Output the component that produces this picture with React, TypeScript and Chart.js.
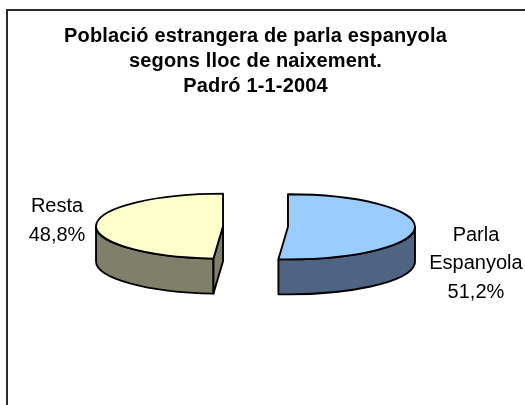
import { useEffect, useRef } from 'react';
import { Chart, registerables } from 'chart.js';

Chart.register(...registerables);

const titleLines = ['Població estrangera de parla espanyola', 'segons lloc de naixement.', 'Padró 1-1-2004'];
const categories = ['Parla Espanyola', 'Resta'];
const labelLines = [['Parla', 'Espanyola'], ['Resta']];
const values = [51.2, 48.8];
const topColors = ['#99CCFF', '#FFFFCC'];
const sideColors = ['#4E6482', '#80806A'];

const FONT = '"Liberation Sans", Arial, sans-serif';
const K = 0.256;
const DEPTH = 35;
const CY = 226.5;
const EXPLODE = 32.5;

function frontRanges(s: number, e: number): [number, number][] {
  const out: [number, number][] = [];
  for (let k = -2; k <= 2; k++) {
    const lo = k * 2 * Math.PI;
    const hi = lo + Math.PI;
    const a = Math.max(s, lo);
    const b = Math.min(e, hi);
    if (b > a + 1e-6) out.push([a, b]);
  }
  return out;
}

function geom(arc: any) {
  const s = arc.startAngle as number;
  const e = arc.endAngle as number;
  const mid = (s + e) / 2;
  const dx = Math.cos(mid) * EXPLODE;
  const dy = Math.sin(mid) * EXPLODE * K;
  return { s, e, mid, dx, dy, ax: arc.x + dx, ay: CY + dy, R: arc.outerRadius as number };
}

const pie3d = {
  id: 'pie3d',
  beforeDraw(chart: any) {
    const ctx = chart.ctx as CanvasRenderingContext2D;
    ctx.save();
    ctx.strokeStyle = '#2a2a2a';
    ctx.lineWidth = 2;
    ctx.beginPath();
    ctx.moveTo(7, 405);
    ctx.lineTo(7, 10);
    ctx.lineTo(525, 10);
    ctx.stroke();
    ctx.restore();
    (ctx as any).letterSpacing = '0.16px';
  },
  beforeDatasetsDraw(chart: any) {
    const ctx = chart.ctx as CanvasRenderingContext2D;
    (ctx as any).letterSpacing = '0px';
    const meta = chart.getDatasetMeta(0);
    const arcs = meta.data as any[];
    ctx.save();
    ctx.lineWidth = 1.9;
    ctx.lineJoin = 'round';
    ctx.strokeStyle = '#000';
    // side walls
    arcs.forEach((arc, i) => {
      const g = geom(arc);
      const r = g.R, ry = g.R * K;
      frontRanges(g.s, g.e).forEach(([a, b]) => {
        ctx.beginPath();
        ctx.ellipse(g.ax, g.ay, r, ry, 0, a, b, false);
        ctx.lineTo(g.ax + r * Math.cos(b), g.ay + ry * Math.sin(b) + DEPTH);
        ctx.ellipse(g.ax, g.ay + DEPTH, r, ry, 0, b, a, true);
        ctx.closePath();
        ctx.fillStyle = sideColors[i];
        ctx.fill();
        ctx.stroke();
      });
      // cut faces
      [[g.s, g.s - Math.PI / 2], [g.e, g.e + Math.PI / 2]].forEach(([phi, nrm]) => {
        if (Math.sin(nrm) <= 0.01) return;
        const px = g.ax + r * Math.cos(phi);
        const py = g.ay + ry * Math.sin(phi);
        ctx.beginPath();
        ctx.moveTo(g.ax, g.ay);
        ctx.lineTo(px, py);
        ctx.lineTo(px, py + DEPTH);
        ctx.lineTo(g.ax, g.ay + DEPTH);
        ctx.closePath();
        ctx.fillStyle = sideColors[i];
        ctx.fill();
        ctx.stroke();
      });
    });
    // top faces drawn by the library's arc elements, squashed
    arcs.forEach((arc) => {
      const g = geom(arc);
      ctx.save();
      ctx.translate(g.dx, CY + g.dy);
      ctx.scale(1, K);
      ctx.translate(0, -arc.y);
      arc.draw(ctx);
      ctx.restore();
    });
    // top outlines
    arcs.forEach((arc) => {
      const g = geom(arc);
      ctx.beginPath();
      ctx.moveTo(g.ax, g.ay);
      ctx.ellipse(g.ax, g.ay, g.R, g.R * K, 0, g.s, g.e, false);
      ctx.closePath();
      ctx.stroke();
    });
    ctx.restore();
    return false;
  },
  afterDraw(chart: any) {
    const ctx = chart.ctx as CanvasRenderingContext2D;
    const meta = chart.getDatasetMeta(0);
    const total = values.reduce((a, b) => a + b, 0);
    ctx.save();
    (ctx as any).letterSpacing = '0px';
    ctx.font = `20px ${FONT}`;
    ctx.fillStyle = '#000';
    ctx.textBaseline = 'middle';
    ctx.textAlign = 'center';
    (meta.data as any[]).forEach((arc, i) => {
      const g = geom(arc);
      const pct = ((values[i] / total) * 100).toFixed(1).replace('.', ',') + '%';
      const lines = [...labelLines[i], pct];
      const right = Math.cos(g.mid) > 0;
      const cxText = right ? g.ax + g.R + 61 : g.ax - g.R - 39;
      const y0 = right ? g.ay + 8.5 : g.ay - 19.5;
      lines.forEach((t, j) => {
        ctx.fillText(t, cxText, y0 + j * 28.5);
      });
    });
    ctx.restore();
  },
};

export default function App() {
  const ref = useRef<HTMLCanvasElement>(null);
  useEffect(() => {
    if (!ref.current) return;
    const chart = new Chart(ref.current, {
      type: 'pie',
      data: {
        labels: categories,
        datasets: [{ data: values, backgroundColor: topColors, borderWidth: 0 }],
      },
      options: {
        responsive: false,
        animation: false,
        events: [],
        radius: 127,
        layout: { padding: { left: 0, right: 14, top: 0, bottom: 0 } },
        plugins: {
          legend: { display: false },
          tooltip: { enabled: false },
          title: {
            display: true,
            text: titleLines,
            color: '#000',
            font: { family: FONT, size: 20, weight: 'bold', lineHeight: 25 / 20 },
            padding: { top: 23.5, bottom: 0 },
          },
        },
      } as any,
      plugins: [pie3d as any],
    });
    return () => chart.destroy();
  }, []);
  return (
    <div style={{ position: 'absolute', left: 0, top: 0, width: 525, height: 405, background: '#fff' }}>
      <canvas ref={ref} width={525} height={405} />
    </div>
  );
}
